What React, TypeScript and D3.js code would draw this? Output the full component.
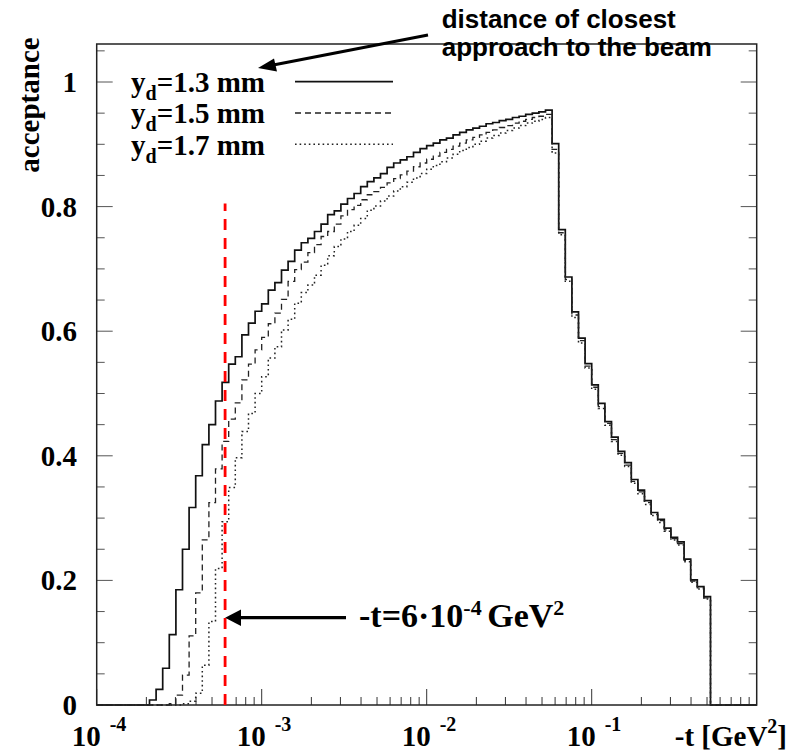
import React from 'react';
import * as d3 from 'd3';

// histogram binning: 100 bins, uniform in log10(-t) from 1e-4, width 0.04 decade
const binLog10Min = -4;
const binLog10Width = 0.04;

// acceptance per bin, y_d = 1.3 mm (solid)
const accYd13 = [
  0, 0, 0, 0, 0, 0, 0, 0, 0.008, 0.025,
  0.059, 0.113, 0.185, 0.250, 0.317, 0.368, 0.418, 0.450, 0.488, 0.518,
  0.547, 0.559, 0.594, 0.613, 0.632, 0.644, 0.666, 0.678, 0.698, 0.712,
  0.730, 0.742, 0.749, 0.760, 0.772, 0.787, 0.793, 0.804, 0.813, 0.821,
  0.832, 0.840, 0.846, 0.853, 0.863, 0.870, 0.875, 0.880, 0.887, 0.893,
  0.898, 0.902, 0.907, 0.910, 0.915, 0.919, 0.923, 0.926, 0.929, 0.933,
  0.935, 0.938, 0.940, 0.943, 0.945, 0.948, 0.950, 0.952, 0.955, 0.901,
  0.763, 0.687, 0.631, 0.589, 0.548, 0.514, 0.484, 0.455, 0.430, 0.407,
  0.389, 0.362, 0.345, 0.328, 0.309, 0.298, 0.284, 0.269, 0.262, 0.234,
  0.201, 0.190, 0.174, 0, 0, 0, 0, 0, 0, 0,
];

// y_d = 1.5 mm (dashed)
const accYd15 = [
  0, 0, 0, 0, 0, 0, 0, 0, 0, 0,
  0, 0.002, 0.016, 0.048, 0.111, 0.180, 0.265, 0.325, 0.379, 0.423,
  0.459, 0.485, 0.522, 0.547, 0.570, 0.590, 0.612, 0.629, 0.651, 0.680,
  0.699, 0.711, 0.726, 0.739, 0.752, 0.760, 0.772, 0.785, 0.795, 0.802,
  0.811, 0.819, 0.824, 0.831, 0.838, 0.845, 0.851, 0.857, 0.864, 0.870,
  0.876, 0.881, 0.887, 0.892, 0.897, 0.902, 0.907, 0.911, 0.915, 0.919,
  0.923, 0.927, 0.930, 0.934, 0.937, 0.940, 0.943, 0.945, 0.948, 0.892,
  0.758, 0.683, 0.626, 0.585, 0.544, 0.510, 0.479, 0.452, 0.426, 0.404,
  0.385, 0.359, 0.342, 0.325, 0.306, 0.296, 0.281, 0.267, 0.259, 0.232,
  0.199, 0.188, 0.172, 0, 0, 0, 0, 0, 0, 0,
];

// y_d = 1.7 mm (dotted)
const accYd17 = [
  0, 0, 0, 0, 0, 0, 0, 0, 0, 0,
  0, 0, 0, 0.002, 0.006, 0.019, 0.064, 0.134, 0.219, 0.294,
  0.349, 0.397, 0.439, 0.468, 0.500, 0.527, 0.557, 0.575, 0.602, 0.619,
  0.645, 0.662, 0.674, 0.690, 0.706, 0.721, 0.736, 0.748, 0.760, 0.770,
  0.781, 0.794, 0.801, 0.809, 0.817, 0.825, 0.832, 0.839, 0.846, 0.853,
  0.860, 0.866, 0.872, 0.878, 0.884, 0.890, 0.895, 0.900, 0.905, 0.910,
  0.914, 0.918, 0.922, 0.926, 0.930, 0.934, 0.937, 0.940, 0.943, 0.886,
  0.755, 0.680, 0.622, 0.581, 0.541, 0.507, 0.476, 0.449, 0.423, 0.401,
  0.383, 0.356, 0.339, 0.322, 0.304, 0.293, 0.279, 0.265, 0.257, 0.230,
  0.197, 0.186, 0.170, 0, 0, 0, 0, 0, 0, 0,
];

const legendValues = ['1.3', '1.5', '1.7'];
const yMajorTicks = [0, 0.2, 0.4, 0.6, 0.8, 1];
const yTickLabels = ['0', '0.2', '0.4', '0.6', '0.8', '1'];
const xDecades = [-4, -3, -2, -1];
const xMantissas = [1, 2, 3, 4, 5, 6, 7, 8, 9];
const cutT = 6e-4;
const cutTop = 0.805;

const SERIF = "'Liberation Serif', 'Times New Roman', serif";
const SANS = "'Liberation Sans', Arial, sans-serif";

export default function App() {
  const W = 791;
  const H = 753;
  const x = d3.scaleLog().domain([1e-4, 1]).range([96.7, 756.7]);
  const y = d3.scaleLinear().domain([0, 1.061]).range([705, 44]);
  const x0 = x.range()[0];
  const x1 = x.range()[1];
  const y0 = y.range()[0];
  const y1 = y.range()[1];

  const nb = accYd13.length;
  const edges = d3.range(nb + 1).map((i) => Math.pow(10, binLog10Min + i * binLog10Width));

  const line = d3
    .line<[number, number]>()
    .x((d) => x(d[0]))
    .y((d) => y(d[1]))
    .curve(d3.curveStepAfter);
  const histPath = (vals: number[]) => {
    const pts: [number, number][] = vals.map((v, i) => [edges[i], v]);
    pts.push([edges[nb], vals[nb - 1]]);
    return line(pts) || '';
  };

  const series = [
    { vals: accYd13, dash: undefined as string | undefined, w: 1.7, color: '#111' },
    { vals: accYd15, dash: '6 4', w: 1.3, color: '#222' },
    { vals: accYd17, dash: '1.6 3', w: 1.5, color: '#222' },
  ];

  const yMinor = d3.range(0, 1.0501, 0.05);
  const xTicks: { t: number; major: boolean }[] = [];
  xDecades.forEach((d) => xMantissas.forEach((m) => xTicks.push({ t: m * Math.pow(10, d), major: m === 1 })));

  const cutX = x(cutT);

  return (
    <svg width={W} height={H} style={{ position: 'absolute', left: 0, top: 0, background: '#fff' }}>
      <rect x={0} y={0} width={W} height={H} fill="#fff" />

      {/* y ticks (left and right) */}
      {yMinor.map((v, i) => {
        const major = Math.abs(v / 0.2 - Math.round(v / 0.2)) < 1e-6;
        const len = major ? 16 : 8;
        return (
          <g key={'yt' + i} stroke="#555" strokeWidth={1}>
            <line x1={x0} x2={x0 + len} y1={y(v)} y2={y(v)} />
            <line x1={x1} x2={x1 - len} y1={y(v)} y2={y(v)} />
          </g>
        );
      })}

      {/* x ticks */}
      {xTicks.map((tk, i) => (
        <line
          key={'xt' + i}
          x1={x(tk.t)}
          x2={x(tk.t)}
          y1={y0}
          y2={y0 - (tk.major ? 16 : 8)}
          stroke="#333"
          strokeWidth={1}
        />
      ))}

      {/* histograms */}
      {series.map((s, i) => (
        <path
          key={'h' + i}
          d={histPath(s.vals)}
          fill="none"
          stroke={s.color}
          strokeWidth={s.w}
          strokeDasharray={s.dash}
        />
      ))}

      {/* frame */}
      <rect x={x0} y={y1} width={x1 - x0} height={y0 - y1} fill="none" stroke="#222" strokeWidth={1.5} />

      {/* red cut line */}
      <line x1={cutX} x2={cutX} y1={y(0)} y2={y(cutTop)} stroke="#ff0000" strokeWidth={2.8} strokeDasharray="11 8" />

      {/* y tick labels */}
      {yMajorTicks.map((v, i) => (
        <text
          key={'yl' + i}
          x={77}
          y={y(v) + 10}
          textAnchor="end"
          fontFamily={SERIF}
          fontWeight="bold"
          fontSize={29}
          fill="#000"
        >
          {yTickLabels[i]}
        </text>
      ))}

      {/* x tick labels */}
      {xDecades.map((d) => {
        const px = x(Math.pow(10, d));
        return (
          <g key={'xl' + d} fontFamily={SERIF} fontWeight="bold" fill="#000">
            <text x={px + 4} y={746} textAnchor="end" fontSize={29}>
              10
            </text>
            <text x={px + 13} y={731} fontSize={20}>
              {String(d)}
            </text>
          </g>
        );
      })}

      {/* axis titles */}
      <text
        transform="translate(39,105) rotate(-90)"
        textAnchor="middle"
        fontFamily={SERIF}
        fontWeight="bold"
        fontSize={29}
        fill="#000"
      >
        acceptance
      </text>
      <text x={787} y={746} textAnchor="end" fontFamily={SERIF} fontWeight="bold" fontSize={29} fill="#000">
        -t [GeV
        <tspan dy={-13} fontSize={20}>
          2
        </tspan>
        <tspan dy={13}>]</tspan>
      </text>

      {/* legend */}
      {legendValues.map((lv, i) => {
        const by = 91.7 + i * 31.5;
        const ly = 81.7 + i * 31.3;
        const s = series[i];
        return (
          <g key={'lg' + i}>
            <text x={131} y={by} fontFamily={SERIF} fontWeight="bold" fontSize={29} fill="#000">
              y
              <tspan dy={8} fontSize={20}>
                d
              </tspan>
              <tspan dy={-8}>={lv} mm</tspan>
            </text>
            <line
              x1={295}
              x2={393}
              y1={ly}
              y2={ly}
              stroke={s.color}
              strokeWidth={s.w}
              strokeDasharray={s.dash}
            />
          </g>
        );
      })}

      {/* annotation: closest approach */}
      <text fontFamily={SANS} fontWeight="bold" fontSize={26} fill="#000">
        <tspan x={441.7} y={28}>
          distance of closest
        </tspan>
        <tspan x={441.7} y={56}>
          approach to the beam
        </tspan>
      </text>
      <line x1={428} y1={35} x2={272} y2={65.3} stroke="#000" strokeWidth={3} />
      <path d="M258,68 L274,58.5 L277,71.5 Z" fill="#000" />

      {/* annotation: cut */}
      <line x1={346} y1={617.7} x2={238} y2={617.7} stroke="#000" strokeWidth={3.3} />
      <path d={`M${cutX},617.7 L241,609.5 L241,626 Z`} fill="#000" />
      <text x={359} y={627} fontFamily={SERIF} fontWeight="bold" fontSize={34} fill="#000">
        -t=6·10
        <tspan dy={-12} fontSize={22}>
          -4{' '}
        </tspan>
        <tspan dy={12}>GeV</tspan>
        <tspan dy={-12} fontSize={22}>
          2
        </tspan>
      </text>
    </svg>
  );
}
